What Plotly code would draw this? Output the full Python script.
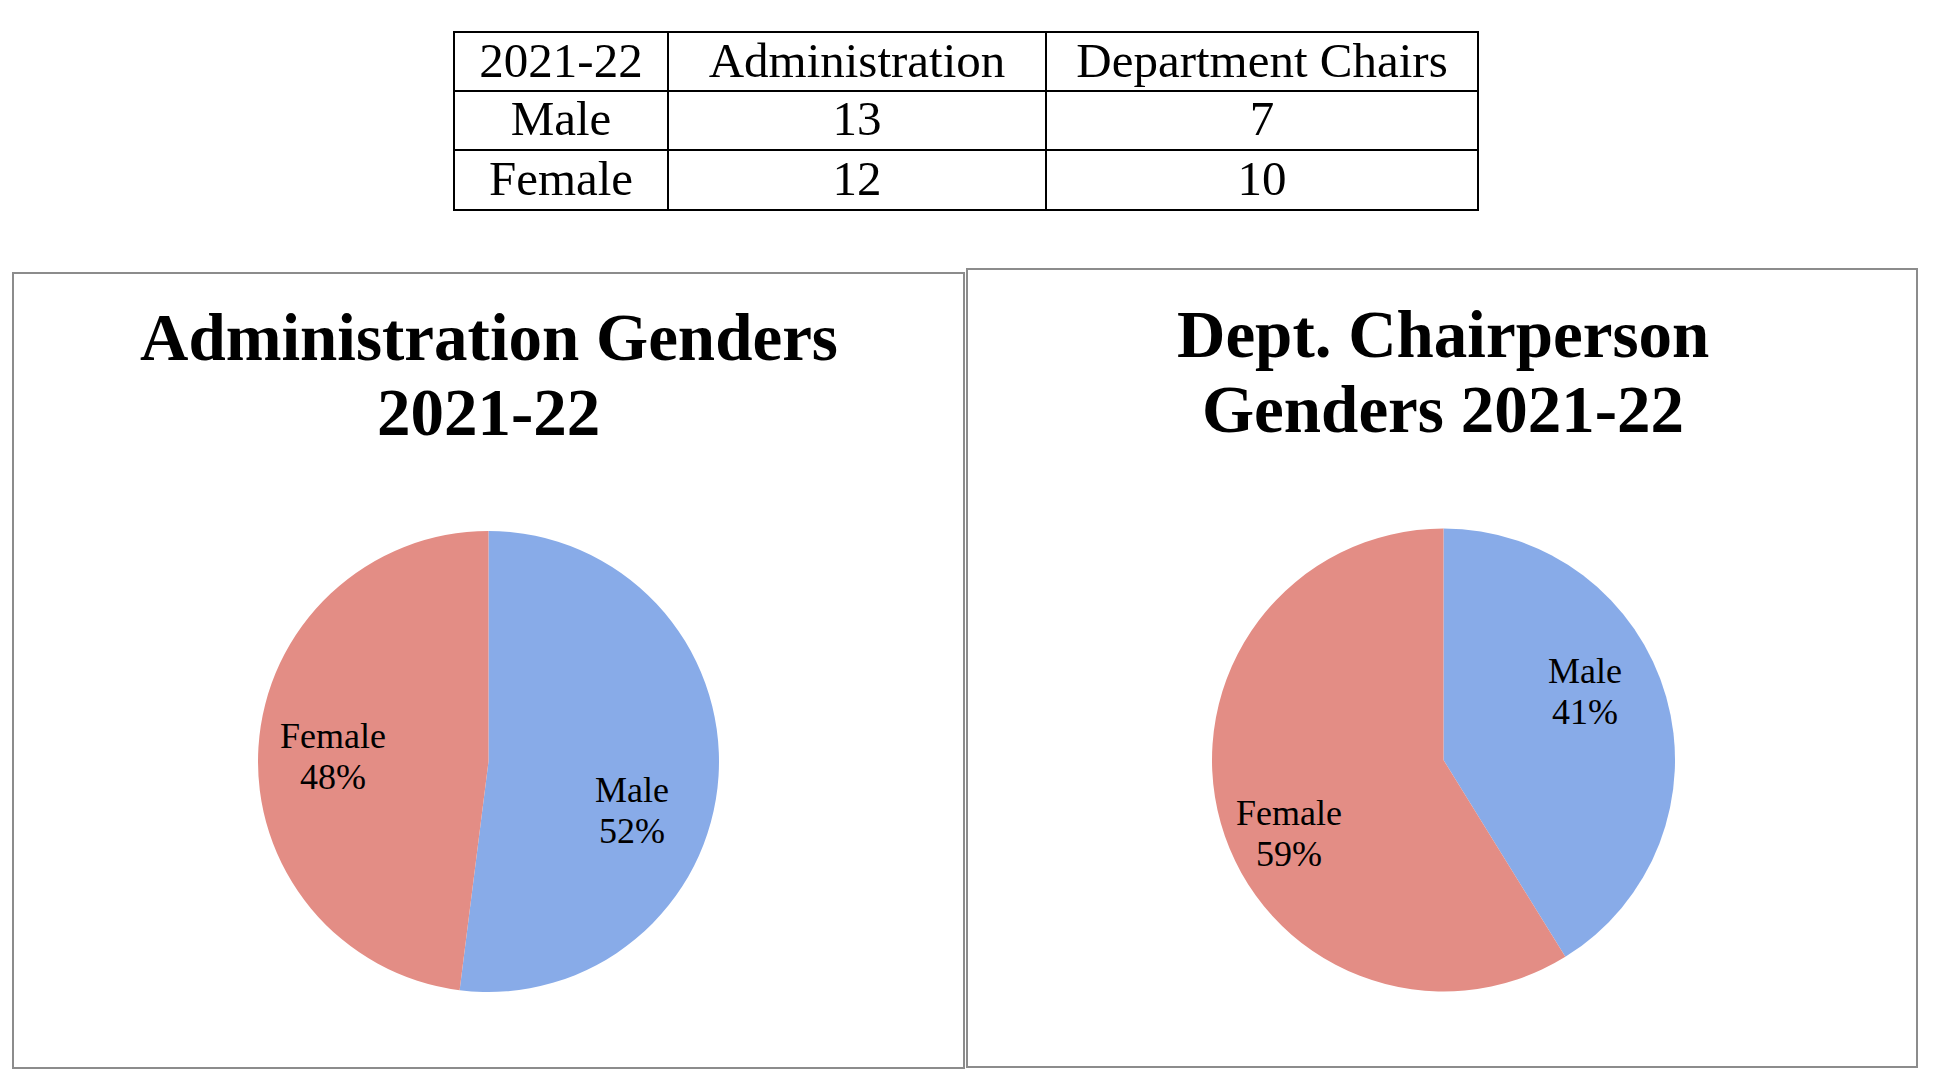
import plotly.graph_objects as go

W, H = 1944, 1076

# ---- data ----
year_label = "2021-22"
groups = ["Administration", "Department Chairs"]
genders = ["Male", "Female"]
admin_counts = [13, 12]
chairs_counts = [7, 10]
titles = [["Administration Genders", "2021-22"], ["Dept. Chairperson", "Genders 2021-22"]]

male_color = "#88abe8"
female_color = "#e38d85"

def px(x):
    return x / W

def py(y):
    return 1 - y / H

fig = go.Figure()

# ---- table ----
fig.add_trace(go.Table(
    domain=dict(x=[px(454), px(1478)], y=[py(212), py(32)]),
    columnwidth=[214, 378, 432],
    header=dict(
        values=[year_label] + groups,
        height=58.5,
        align="center",
        fill_color="white",
        line=dict(color="black", width=2),
        font=dict(family="Liberation Serif", size=49, color="black"),
    ),
    cells=dict(
        values=[genders, admin_counts, chairs_counts],
        height=59.5,
        align="center",
        fill_color="white",
        line=dict(color="black", width=2),
        font=dict(family="Liberation Serif", size=49, color="black"),
    ),
))

# ---- pies ----
pies = [
    dict(values=admin_counts, cx=488.5, cy=761.5, r=230.5),
    dict(values=chairs_counts, cx=1443.5, cy=760, r=231.5),
]
for p in pies:
    fig.add_trace(go.Pie(
        labels=genders,
        values=p["values"],
        sort=False,
        direction="clockwise",
        rotation=0,
        domain=dict(x=[px(p["cx"] - p["r"]), px(p["cx"] + p["r"])],
                    y=[py(p["cy"] + p["r"]), py(p["cy"] - p["r"])]),
        marker=dict(colors=[male_color, female_color], line=dict(width=0)),
        textinfo="none",
        showlegend=False,
        hoverinfo="label+value+percent",
    ))

# ---- data labels (Excel "best fit" placement; text built from the data) ----
# label anchor centres x and first-line baseline y, in page pixels, per pie and per gender
label_pos = [
    {"Male": (632, 802), "Female": (333, 748)},
    {"Male": (1585, 683), "Female": (1289, 825)},
]
label_size = 36
line_gap = 41
annotations = []
for p, pos in zip(pies, label_pos):
    total = sum(p["values"])
    for g, v in zip(genders, p["values"]):
        lx, base = pos[g]
        pct = f"{round(100 * v / total)}%"
        for k, txt in enumerate([g, pct]):
            annotations.append(dict(
                x=px(lx), y=py(base + k * line_gap - 0.3375 * label_size),
                xref="paper", yref="paper", xanchor="center", yanchor="middle",
                showarrow=False, text=txt,
                font=dict(family="Liberation Serif", size=label_size, color="black"),
            ))

# ---- panel boxes ----
shapes = [
    dict(type="rect", xref="paper", yref="paper", x0=px(13), x1=px(964), y0=py(1068), y1=py(273),
         line=dict(color="#8c8c8c", width=2), fillcolor="rgba(0,0,0,0)", layer="below"),
    dict(type="rect", xref="paper", yref="paper", x0=px(967), x1=px(1917), y0=py(1067), y1=py(269),
         line=dict(color="#8c8c8c", width=2), fillcolor="rgba(0,0,0,0)", layer="below"),
]

# ---- titles ----
title_size = 67
title_pos = [(488.5, [360, 435]), (1443, [356.5, 431.5])]
for (tx, bases), lines in zip(title_pos, titles):
    for base, line in zip(bases, lines):
        annotations.append(dict(
            x=px(tx), y=py(base - 0.3375 * title_size), xref="paper", yref="paper",
            xanchor="center", yanchor="middle", showarrow=False,
            text=line,
            font=dict(family="Liberation Serif", size=title_size, color="black", weight="bold"),
        ))

fig.update_layout(
    width=W, height=H,
    margin=dict(l=0, r=0, t=0, b=0),
    paper_bgcolor="white",
    plot_bgcolor="white",
    shapes=shapes,
    annotations=annotations,
)

fig.write_html(
    "out.html",
    config={"displayModeBar": False},
    post_script="document.body.style.margin='0';document.body.style.overflow='hidden';",
)
